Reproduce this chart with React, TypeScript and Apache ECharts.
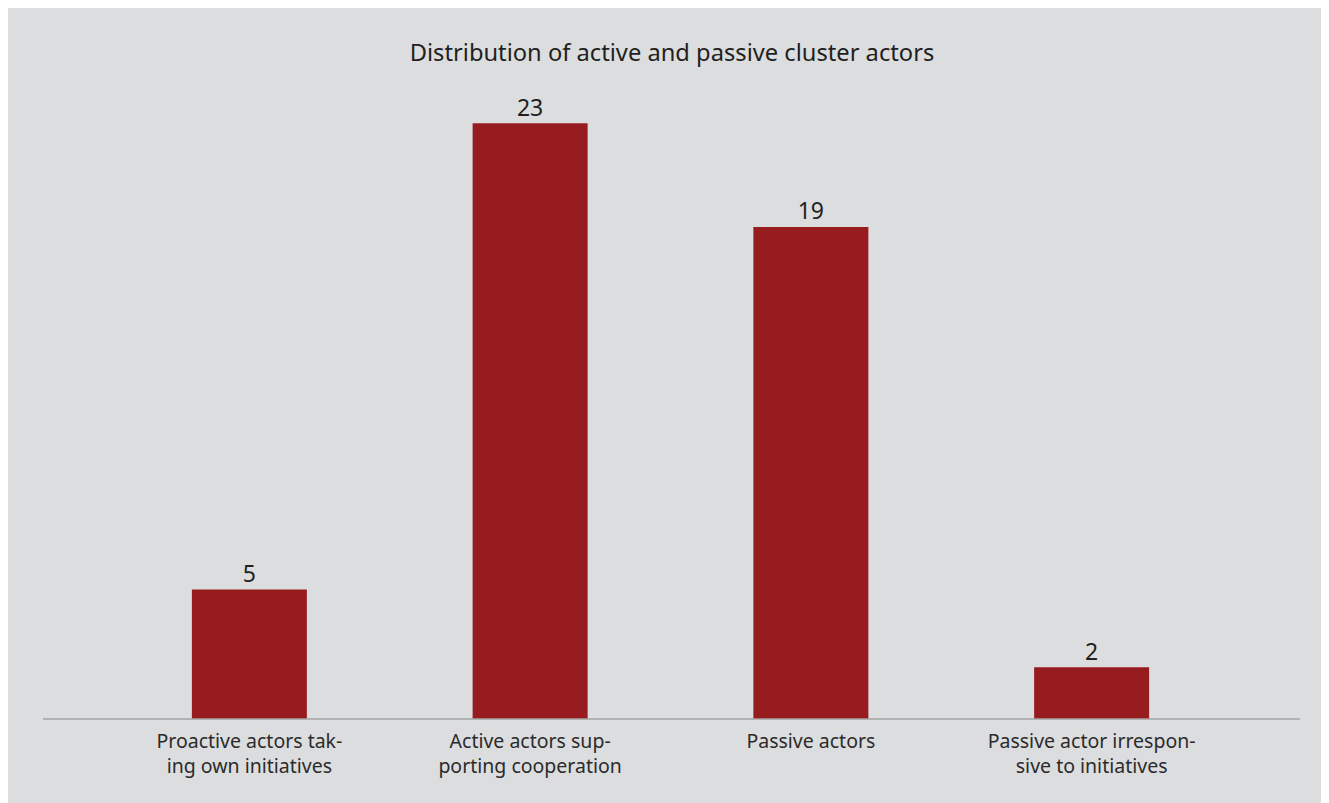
import React, { useEffect, useRef } from "react";
import * as echarts from "echarts";

const titleText = "Distribution of active and passive cluster actors";
const categories = [
  "Proactive actors tak-\ning own initiatives",
  "Active actors sup-\nporting cooperation",
  "Passive actors",
  "Passive actor irrespon-\nsive to initiatives",
];
const values = [5, 23, 19, 2];

const FONT = "'Noto Sans', 'Open Sans', sans-serif";

export default function App() {
  const ref = useRef<HTMLDivElement>(null);
  useEffect(() => {
    if (!ref.current) return;
    const chart = echarts.init(ref.current, undefined, { renderer: "svg" });
    chart.setOption({
      animation: false,
      backgroundColor: "#dcdddf",
      title: {
        text: titleText,
        left: 659,
        textAlign: "center",
        top: 27,
        textStyle: { fontFamily: FONT, fontSize: 23.7, fontWeight: "normal", color: "#231f20" },
      },
      grid: { left: 101, width: 1123, bottom: 84, top: 63.5 },
      xAxis: {
        type: "category",
        data: categories,
        axisLine: { show: false },
        axisTick: { show: false },
        axisLabel: {
          interval: 0,
          fontFamily: FONT,
          fontSize: 19.5,
          lineHeight: 25,
          color: "#2b2b2b",
          margin: 9,
        },
      },
      yAxis: {
        type: "value",
        min: 0,
        max: 25,
        show: false,
        splitLine: { show: false },
      },
      graphic: [
        {
          type: "line",
          shape: { x1: 35, y1: 711, x2: 1292, y2: 711 },
          style: { stroke: "#a3a3a3", lineWidth: 1.5 },
          z: 10,
        },
      ],
      series: [
        {
          type: "bar",
          data: values,
          barWidth: 115,
          itemStyle: { color: "#971c20" },
          label: {
            show: true,
            position: "top",
            distance: 5,
            fontFamily: FONT,
            fontSize: 23,
            color: "#231f20",
          },
        },
      ],
    });
    return () => chart.dispose();
  }, []);
  return <div ref={ref} style={{ width: 1321, height: 795 }} />;
}
